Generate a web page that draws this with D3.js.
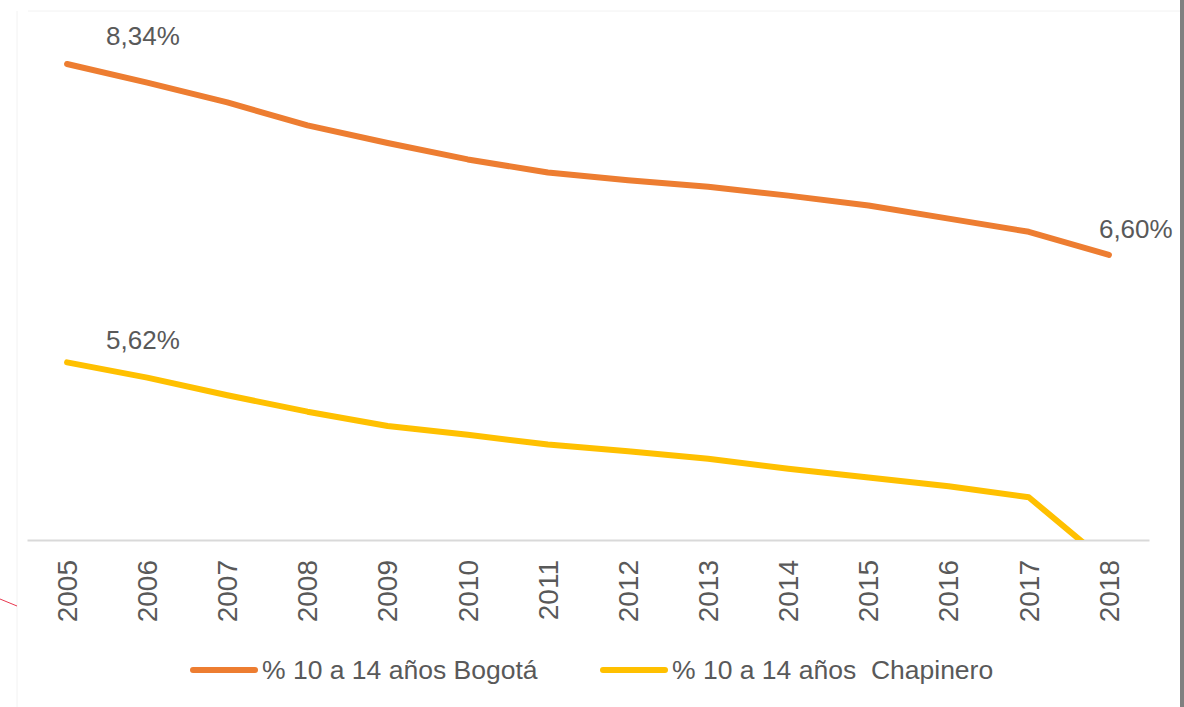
<!DOCTYPE html>
<html>
<head>
<meta charset="utf-8">
<script src="https://cdn.jsdelivr.net/npm/d3@7"></script>
<style>
  body { margin: 0; background: #fff; }
  text { font-family: "Liberation Sans Narrow", "Liberation Sans", sans-serif; fill: #595959; }
</style>
</head>
<body>
<div id="chart"></div>
<script>
// data
var years = ["2005","2006","2007","2008","2009","2010","2011","2012","2013","2014","2015","2016","2017","2018"];
var bogota = [8.34, 8.17, 7.99, 7.78, 7.62, 7.47, 7.35, 7.28, 7.22, 7.14, 7.05, 6.93, 6.81, 6.60];
var chapinero = [5.62, 5.48, 5.32, 5.17, 5.04, 4.96, 4.87, 4.81, 4.74, 4.65, 4.57, 4.49, 4.39, 3.78];
var seriesNames = ["% 10 a 14 años Bogotá", "% 10 a 14 años  Chapinero"];
var colors = ["#ED7D31", "#FFC000"];

var width = 1184, height = 707;
var margin = {top: 64, right: 35, bottom: 167, left: 27};

var svg = d3.select("#chart")
  .append("svg")
    .attr("width", width)
    .attr("height", height);

// frame bits
svg.append("line").attr("x1", 28).attr("x2", 1180).attr("y1", 11).attr("y2", 11)
  .attr("stroke", "#f2f2f2").attr("stroke-width", 1);
svg.append("line").attr("x1", 17).attr("x2", 17).attr("y1", 11).attr("y2", 707)
  .attr("stroke", "#f2f2f2").attr("stroke-width", 1);
svg.append("rect").attr("x", 1180).attr("y", 0).attr("width", 4).attr("height", height)
  .attr("fill", "#808080");
svg.append("line").attr("x1", 0).attr("y1", 599).attr("x2", 17).attr("y2", 606)
  .attr("stroke", "#e8384f").attr("stroke-width", 1);

var x = d3.scaleBand()
  .domain(years)
  .range([margin.left, width - margin.right])
  .padding(0);

var y = d3.scaleLinear()
  .domain([4.0, 8.34])
  .range([height - margin.bottom, margin.top]);

var xc = d => x(d) + x.bandwidth() / 2;

svg.append("clipPath").attr("id", "plot")
  .append("rect")
    .attr("x", 0).attr("y", 0)
    .attr("width", width).attr("height", y(4.0));

// x axis
var xAxis = svg.append("g")
  .attr("transform", `translate(0,${y(4.0)})`)
  .call(d3.axisBottom(x).tickSize(0).tickPadding(0));
xAxis.attr("font-family", null);
xAxis.select(".domain").attr("stroke", "#d9d9d9").attr("stroke-width", 2);
xAxis.selectAll(".tick text")
  .attr("transform", "rotate(-90)")
  .attr("x", -20).attr("y", 0).attr("dy", "0.35em")
  .attr("text-anchor", "end")
  .style("font-size", "28px");

var line = d3.line()
  .x((d, i) => xc(years[i]))
  .y(d => y(d));

[bogota, chapinero].forEach(function(s, k) {
  svg.append("path")
    .datum(s)
    .attr("clip-path", "url(#plot)")
    .attr("fill", "none")
    .attr("stroke", colors[k])
    .attr("stroke-width", 6)
    .attr("stroke-linecap", "round")
    .attr("stroke-linejoin", "round")
    .attr("d", line);
});

var fmt = v => v.toFixed(2).replace(".", ",") + "%";

// data labels
svg.append("text").attr("x", xc("2005") + 39).attr("y", y(bogota[0]) - 19)
  .style("font-size", "26px").text(fmt(bogota[0]));
svg.append("text").attr("x", xc("2005") + 39).attr("y", y(chapinero[0]) - 13)
  .style("font-size", "26px").text(fmt(chapinero[0]));
svg.append("text").attr("x", xc("2018") - 10).attr("y", y(bogota[13]) - 17)
  .style("font-size", "26px").text(fmt(bogota[13]));

// legend
var legendX = [190, 600];
seriesNames.forEach(function(n, k) {
  var g = svg.append("g").attr("transform", `translate(${legendX[k]},670)`);
  g.append("line").attr("x1", 3).attr("x2", 65).attr("y1", 0).attr("y2", 0)
    .attr("stroke", colors[k]).attr("stroke-width", 6).attr("stroke-linecap", "round");
  g.append("text").attr("x", 72).attr("dy", "0.35em")
    .style("font-size", "26.5px").style("white-space", "pre").text(n);
});
</script>
</body>
</html>
